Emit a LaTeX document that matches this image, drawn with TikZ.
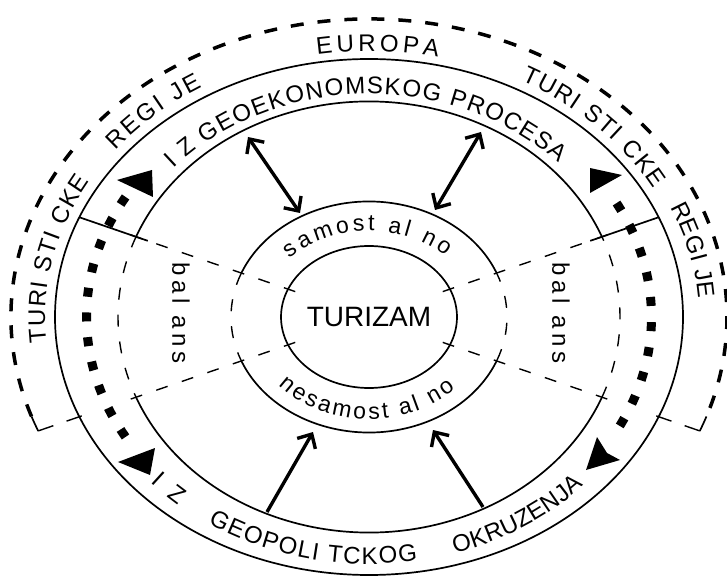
\documentclass[tikz,border=0pt]{standalone}
\usepackage{fontspec}
\setmainfont{Liberation Sans}
\newfontfamily\spacedfont[LetterSpace=20]{Liberation Sans}
\usepackage{tikz}
\usetikzlibrary{shapes.geometric}
\usetikzlibrary{arrows.meta}
\usetikzlibrary{decorations.text}

\begin{document}
\begin{tikzpicture}[
  x=1pt, y=1pt,
  ring/.style={line width=1.7pt},
  thin dash/.style={line width=1.4pt, dash pattern=on 12pt off 15pt},
  region/.style={line width=3.5pt, dash pattern=on 13pt off 14pt},
  squares/.style={line width=9pt, dash pattern=on 9pt off #1},
  link/.style={line width=3.4pt, -{Straight Barb[length=11pt,width=21pt]}},
  both link/.style={line width=3.4pt, {Straight Barb[length=11pt,width=21pt]}-{Straight Barb[length=11pt,width=21pt]}},
  along/.style={decorate, decoration={text along path, text align={fit to path},
    text={|\fontsize{24}{24}\selectfont|#1}}},
  small along/.style={decorate, decoration={text along path, text align={fit to path},
    text={|\fontsize{23}{23}\selectfont|#1}}},
]
\useasboundingbox (-369,-260) rectangle (358,317);

% EUROPA region
\draw[region] (199.5:358 and 298) arc[start angle=199.5, end angle=-19.5, x radius=358, y radius=298];
\draw[ring] (202.5:358 and 298) arc[start angle=202.5, end angle=199.5, x radius=358, y radius=298];
\draw[ring] (-22.5:358 and 298) arc[start angle=-22.5, end angle=-19.5, x radius=358, y radius=298];

\draw[ring] (0,0) ellipse[x radius=314, y radius=258];
\foreach \rx/\ry in {251/215.5, 138/115.5} {
  \draw[ring] ({\rx*cos(22)},{\ry*sin(22)}) arc[start angle=22, end angle=158, x radius=\rx, y radius=\ry];
  \draw[ring] ({\rx*cos(202)},{\ry*sin(202)}) arc[start angle=202, end angle=338, x radius=\rx, y radius=\ry];
  \draw[thin dash] ({\rx*cos(158)},{\ry*sin(158)}) arc[start angle=158, end angle=202, x radius=\rx, y radius=\ry];
  \draw[thin dash] ({\rx*cos(-22)},{\ry*sin(-22)}) arc[start angle=-22, end angle=22, x radius=\rx, y radius=\ry];
}

% dividers
\draw[ring] (161:306.4) -- (161:234);
\draw[ring] (19:306.4) -- (19:234);
\draw[thin dash, dash pattern=on 16pt off 14pt] (199:349.8) -- (199:300);
\draw[thin dash, dash pattern=on 16pt off 14pt] (341:349.8) -- (341:300);
\foreach \a in {19,161,199,341}
  \draw[thin dash] (\a:78) -- (\a:252);

\node[ring, draw, ellipse, minimum width=174pt, minimum height=142pt, inner sep=0pt,
  font=\fontsize{28}{28}\selectfont] (turizam) at (0,0) {TURIZAM};
\node[font=\spacedfont\fontsize{24}{24}\selectfont, rotate=-90] (balans l) at (-188,4) {bal ans};
\node[font=\spacedfont\fontsize{24}{24}\selectfont, rotate=-90] (balans r) at (192,4) {bal ans};

% square dots and their end marks
\draw[squares=15.74pt] (149.5:282.5 and 236.5) arc[start angle=149.5, end angle=211.5, x radius=282.5, y radius=236.5];
\draw[squares=16.2pt] (28.8:282.5 and 236.5) arc[start angle=28.8, end angle=-27.5, x radius=282.5, y radius=236.5];
\fill (-252,137) -- (-217,147) -- (-216,120) -- cycle;
\fill (-251,-145) -- (-214,-131) -- (-219,-158) -- cycle;
\fill (221,149) -- (253,142) -- (221,124) -- cycle;
\fill (217,-153) -- (251,-143) -- (238,-136) -- (228,-120) -- cycle;

\coordinate (proc l) at (-121,180);
\coordinate (sam l) at (-69,104);
\coordinate (proc r) at (112,185);
\coordinate (sam r) at (66,107);
\coordinate (okr l) at (-102,-195);
\coordinate (nes l) at (-56,-115);
\coordinate (okr r) at (114,-190);
\coordinate (nes r) at (64,-113);
\draw[both link] (proc l) -- (sam l);
\draw[both link] (proc r) -- (sam r);
\draw[link] (okr l) -- (nes l);
\draw[link] (okr r) -- (nes r);

\path[along={EUROPA}] (99.2:324 and 266) arc[start angle=99.2, end angle=77.7, x radius=324, y radius=266];
\path[along={TURI STI CKE}] (185.5:324 and 268) arc[start angle=185.5, end angle=149.5, x radius=324, y radius=268];
\path[along={REGI JE}] (141.5:324 and 268) arc[start angle=141.5, end angle=121, x radius=324, y radius=268];
\path[along={TURI STI CKE}] (62:324 and 268) arc[start angle=62, end angle=28.5, x radius=324, y radius=268];
\path[along={REGI JE}] (24:330 and 270) arc[start angle=24, end angle=4, x radius=330, y radius=270];
\path[along={I Z GEOEKONOMSKOG PROCESA}] (138.3:262 and 223) arc[start angle=138.3, end angle=43.7, x radius=262, y radius=223];
\path[along={I Z}] (222:294 and 247) arc[start angle=222, end angle=229.5, x radius=294, y radius=247];
\path[along={GEOPOLI TCKOG}] (236.8:294 and 247) arc[start angle=236.8, end angle=279.5, x radius=294, y radius=247];
\path[along={OKRUZENJA}] (287:294 and 247) arc[start angle=287, end angle=317, x radius=294, y radius=247];
\path[small along={samost al no}] (137:108 and 86) arc[start angle=137, end angle=45, x radius=108, y radius=86];
\path[small along={nesamost al no}] (222:122 and 102) arc[start angle=222, end angle=315, x radius=122, y radius=102];
\end{tikzpicture}
\end{document}
